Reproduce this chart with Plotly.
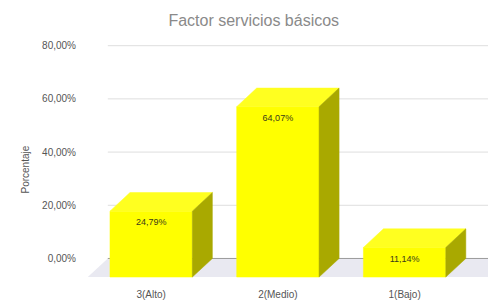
import plotly.graph_objects as go

# ---- data ----
categories = ["3(Alto)", "2(Medio)", "1(Bajo)"]
values = [24.79, 64.07, 11.14]
value_labels = ["24,79%", "64,07%", "11,14%"]
y_tickvals = [0, 20, 40, 60, 80]
y_ticktext = ["0,00%", "20,00%", "40,00%", "60,00%", "80,00%"]

# ---- style / geometry (data units) ----
FRONT = "#ffff00"
TOP = "#ffff20"
SIDE = "#a9a900"
FLOOR = "#e9e9f1"
W = 0.325      # half width of a bar
DX = 0.158     # depth offset in x
DY = 7.0       # depth offset in y
XMIN, XMAX = -0.68, 2.5
BACK_LEFT = -0.5
FONT = "Liberation Sans, Arial"

fig = go.Figure()

# floor
fig.add_trace(go.Scatter(
    x=[BACK_LEFT, XMAX + 1, XMAX + 1 - DX, BACK_LEFT - DX, BACK_LEFT],
    y=[0, 0, -DY, -DY, 0], mode="lines", fill="toself",
    fillcolor=FLOOR, line=dict(width=0), hoverinfo="skip"))

# gridlines on the back plane
for tv in y_tickvals:
    fig.add_trace(go.Scatter(
        x=[BACK_LEFT, XMAX + 1], y=[tv, tv], mode="lines",
        line=dict(color="#9a9a9a" if tv == 0 else "#dedede", width=1),
        hoverinfo="skip"))

xs = list(range(len(categories)))
for i, v in zip(xs, values):
    fl, fr = i - DX - W, i - DX + W
    # front face
    fig.add_trace(go.Scatter(
        x=[fl, fr, fr, fl, fl], y=[-DY, -DY, v - DY, v - DY, -DY],
        mode="lines", fill="toself", fillcolor=FRONT,
        line=dict(color=FRONT, width=0.5), hoverinfo="skip"))
    # top face
    fig.add_trace(go.Scatter(
        x=[fl, fr, i + W, i - W, fl], y=[v - DY, v - DY, v, v, v - DY],
        mode="lines", fill="toself", fillcolor=TOP,
        line=dict(color=TOP, width=0.5), hoverinfo="skip"))
    # side face
    fig.add_trace(go.Scatter(
        x=[fr, i + W, i + W, fr, fr], y=[-DY, 0, v, v - DY, -DY],
        mode="lines", fill="toself", fillcolor=SIDE,
        line=dict(color=SIDE, width=0.5), hoverinfo="skip"))

# value labels
fig.add_trace(go.Scatter(
    x=[i - DX for i in xs], y=[v - 11.5 for v in values],
    mode="text", text=value_labels,
    textfont=dict(family=FONT, size=9, color="#3a3a1a"),
    hoverinfo="skip"))

fig.update_layout(
    width=488, height=301,
    margin=dict(l=85, r=0, t=34, b=21),
    paper_bgcolor="white", plot_bgcolor="white",
    showlegend=False,
    title=dict(text="Factor servicios básicos", x=0.52, xanchor="center",
               y=1 - 20 / 301, yanchor="middle",
               font=dict(family=FONT, size=16, color="#8a8a8a")),
    xaxis=dict(range=[XMIN, XMAX], showgrid=False, zeroline=False,
               showline=False, tickmode="array",
               tickvals=[i - DX for i in xs], ticktext=categories,
               ticks="", ticklabelstandoff=7,
               tickfont=dict(family=FONT, size=10, color="#555")),
    yaxis=dict(range=[-8.1, 84.4], showgrid=False, zeroline=False,
               showline=False, tickmode="array",
               tickvals=y_tickvals, ticktext=y_ticktext, ticks="",
               ticklabelstandoff=8,
               tickfont=dict(family=FONT, size=10, color="#555")),
    annotations=[dict(text="Porcentaje", textangle=-90, xref="paper", yref="paper",
                      x=(17 - 85) / 403, y=(280 - 170) / 246, showarrow=False,
                      font=dict(family=FONT, size=10, color="#555"))],
)

fig.write_html("out.html", config={"displayModeBar": False},
               post_script="document.body.style.margin='0px';")
